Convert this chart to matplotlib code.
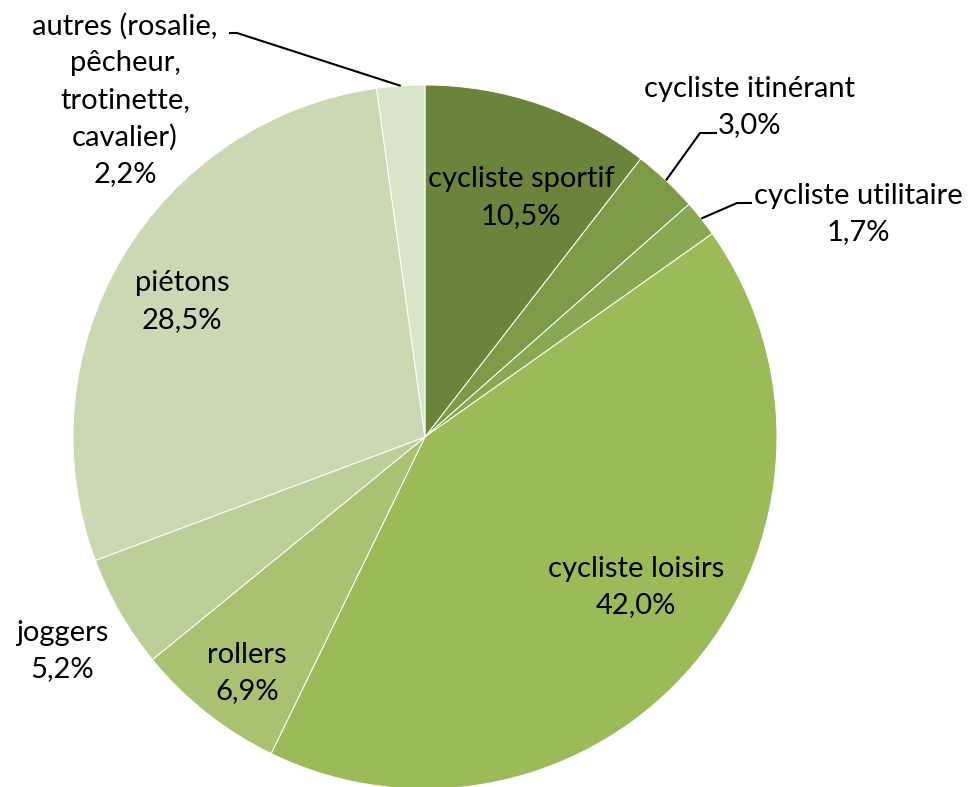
import matplotlib
matplotlib.use("Agg")
import matplotlib.pyplot as plt
import numpy as np

# data (percent)
categories = ["cycliste sportif", "cycliste itinérant", "cycliste utilitaire",
              "cycliste loisirs", "rollers", "joggers", "piétons",
              "autres (rosalie,\npêcheur,\ntrotinette,\ncavalier)"]
shares = [10.5, 3.0, 1.7, 42.0, 6.9, 5.2, 28.5, 2.2]
colors = ["#6b843c", "#7d9a47", "#89a852", "#9bbb59",
          "#a8c272", "#bbcf98", "#cad8b3", "#d9e4c8"]

W, H = 969, 787
CX, CY, R = 425, 437, 352  # pie centre / radius in pixels (y from top)

# outside label centres in pixels (y from top); None -> inside the slice
label_pos = [None, (750, 107), (858, 214), None, None, (62, 651), None, (125, 100)]
# inside labels: (angle in degrees, fraction of radius)
inside_polar = [(68.2, 0.733), None, None, (-35.4, 0.735), (-127.0, 0.84),
                None, (150.8, 0.79), None]
# leader lines: slice edge -> elbow -> end (pixels)
leader_elbow = {1: (700, 133), 2: (737, 203), 7: (237, 33)}
leader_end = {1: (717, 133), 2: (752, 203), 7: (229, 33)}

plt.rcParams['font.family'] = ['Lato', 'DejaVu Sans']

fig = plt.figure(figsize=(W / 100, H / 100), dpi=100)
ax = fig.add_axes([0, 0, 1, 1])

wedges, _ = ax.pie(shares, colors=colors, startangle=90, counterclock=False,
                   center=(CX, H - CY), radius=R,
                   wedgeprops=dict(edgecolor='white', linewidth=0.7))
ax.set_xlim(0, W)
ax.set_ylim(0, H)
ax.set_aspect('equal')
ax.axis('off')

for i, w in enumerate(wedges):
    mid = np.deg2rad((w.theta1 + w.theta2) / 2)
    txt = f"{categories[i]}\n{shares[i]:.1f}%".replace(".", ",")
    if label_pos[i] is None:
        ang, frac = inside_polar[i]
        ang = np.deg2rad(ang)
        x = CX + frac * R * np.cos(ang)
        y = H - CY + frac * R * np.sin(ang)
    else:
        x, y = label_pos[i][0], H - label_pos[i][1]
    ax.text(x, y, txt, ha='center', va='center', fontsize=21,
            linespacing=1.5, color='black')
    if i in leader_elbow:
        ex, ey = CX + R * np.cos(mid), H - CY + R * np.sin(mid)
        bx, by = leader_elbow[i]
        tx, ty = leader_end[i]
        ax.plot([ex, bx, tx], [ey, H - by, H - ty], color='black', lw=1.5,
                solid_capstyle='butt')

fig.savefig("out.png", dpi=100)
